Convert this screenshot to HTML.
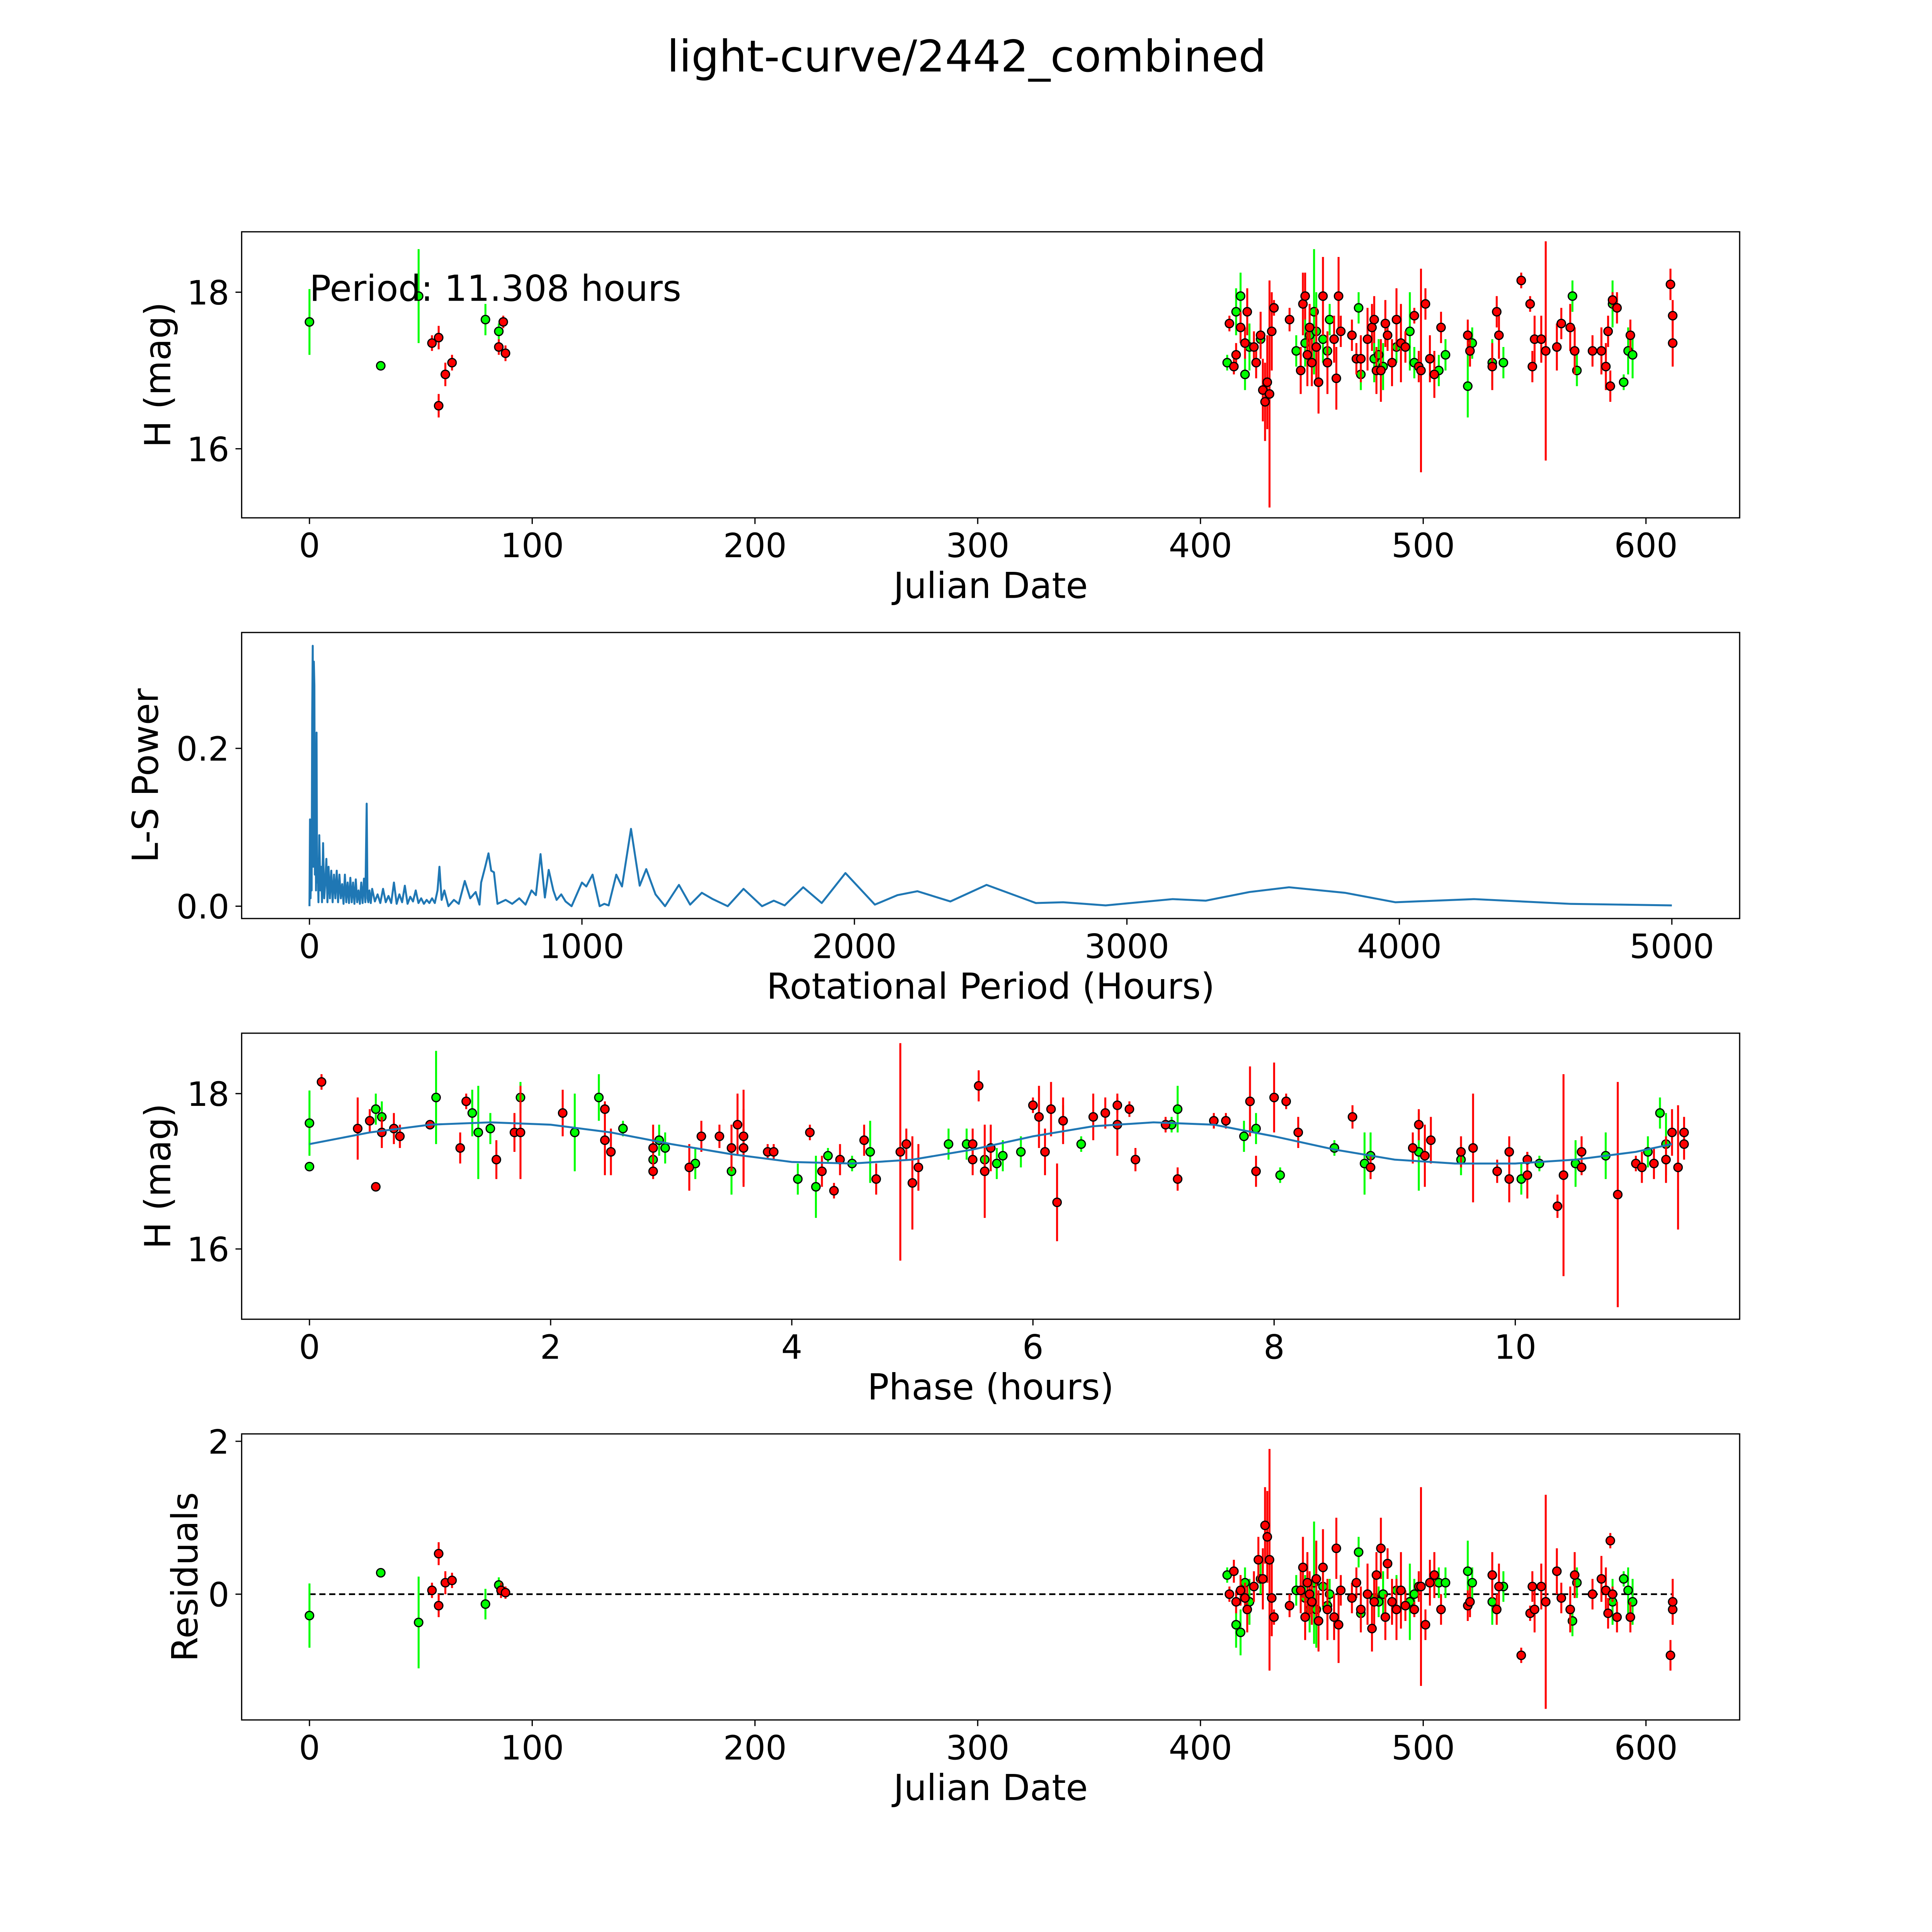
<!DOCTYPE html>
<html><head><meta charset="utf-8"><style>
html,body{margin:0;padding:0;background:#fff;overflow:hidden;width:100%;height:100%;}
svg{display:block;width:100vw;height:100vh;font-family:"DejaVu Sans","Liberation Sans",sans-serif;}
</style></head><body>
<svg id="fig" width="5400" height="5400" viewBox="0 0 1567 1567" preserveAspectRatio="xMidYMid meet" xmlns="http://www.w3.org/2000/svg">
<rect width="1567" height="1567" fill="#fff"/>
<text x="784" y="58" font-size="35.5" text-anchor="middle">light-curve/2442_combined</text>
<g id="layer"></g>
</svg>
<script>
// ---------- data ----------
const lcRed = [[55,17.35,.1],[58,17.42,.15],[58,16.55,.15],[61,16.95,.15],[64,17.1,.1],[85,17.3,.1],[87,17.62,.08],[88,17.22,.1],
[413,17.6,.1],[415,17.05,.1],[416,17.2,.15],[418,17.55,.2],[420,17.35,.2],[421,17.75,.3],[424,17.3,.2],[425,17.1,.2],[427,17.45,.3],[428,16.75,.4],[429,16.6,.5],[430,16.85,.6],[431,16.7,1.45],[432,17.5,.5],[433,17.8,.1],[440,17.65,.15],[445,17.0,.3],[446,17.85,.4],[447,17.95,.3],[448,17.2,.4],[449,17.55,.3],[450,17.1,.3],[452,17.3,.5],[453,16.85,.4],[455,17.95,.5],[457,17.1,.4],[460,17.4,.3],[461,16.9,.4],[462,17.95,.5],[463,17.5,.2],[468,17.45,.2],[470,17.15,.2],[472,17.15,.3],[475,17.4,.4],[477,17.55,.3],[478,17.65,.3],[479,17.0,.3],[481,17.0,.4],[483,17.6,.3],[484,17.45,.2],[486,17.1,.3],[488,17.65,.4],[490,17.35,.5],[492,17.3,.2],[496,17.7,.1],[498,17.05,.2],[499,17.0,1.3],[501,17.85,.2],[503,17.15,.3],[505,16.95,.3],[508,17.55,.2],[520,17.45,.2],[521,17.25,.2],[531,17.05,.3],[533,17.75,.2],[534,17.45,.3],[544,18.15,.1],[548,17.85,.1],[549,17.05,.2],[550,17.4,.3],[553,17.4,.3],[555,17.25,1.4],[560,17.3,.3],[562,17.6,.2],[566,17.55,.3],[568,17.25,.3],[576,17.25,.2],[580,17.25,.3],[582,17.05,.3],[583,17.5,.2],[584,16.8,.2],[585,17.9,.1],[587,17.8,.2],[593,17.45,.2],[611,18.1,.2],[612,17.7,.2],[612,17.35,.3]];
const lcGreen = [[0,17.62,.42],[32,17.06,.05],[49,17.95,.6],[79,17.65,.2],[85,17.5,.1],
[412,17.1,.1],[416,17.75,.3],[418,17.95,.3],[420,16.95,.2],[422,17.3,.3],[427,17.4,.2],[443,17.25,.2],[447,17.35,.3],[449,17.45,.3],[451,17.75,.8],[452,17.5,.5],[455,17.4,.3],[457,17.25,.2],[458,17.65,.2],[471,17.8,.2],[472,16.95,.2],[478,17.15,.3],[480,17.2,.2],[482,17.05,.3],[488,17.3,.2],[494,17.5,.5],[496,17.1,.2],[507,17.0,.2],[510,17.2,.2],[520,16.8,.4],[522,17.35,.2],[531,17.1,.3],[536,17.1,.2],[567,17.95,.2],[569,17.0,.2],[585,17.85,.3],[590,16.85,.1],[592,17.25,.3],[594,17.2,.3]];
const lsPeriod = [0,2,4,6,8,10,12,14,16,18,20,22,24,26,28,30,33,36,40,43,46,50,54,58,62,66,70,75,80,85,90,95,100,105,110,115,120,125,130,135,140,145,150,155,160,165,170,175,180,185,190,195,200,205,210,213,216,220,225,230,240,250,260,270,280,290,300,310,320,330,340,350,360,370,380,390,400,410,420,430,440,450,460,470,477,485,495,510,530,548,570,590,610,624,630,645,657,667,677,690,720,744,770,793,815,831,848,864,878,895,907,924,940,962,1000,1016,1039,1065,1082,1098,1126,1147,1180,1212,1236,1270,1305,1356,1397,1440,1480,1535,1593,1661,1704,1744,1812,1880,1967,2075,2158,2231,2352,2485,2666,2766,2922,3168,3289,3450,3595,3800,3985,4274,4625,5000];
const lsPower = [0,0.11,0.01,0.06,0.02,0.24,0.33,0.05,0.31,0.28,0.04,0.15,0.02,0.22,0.03,0.06,0.005,0.09,0.02,0.05,0.005,0.08,0.01,0.03,0.06,0.005,0.05,0.01,0.045,0.005,0.04,0.01,0.045,0.005,0.04,0.01,0.028,0.003,0.04,0.005,0.03,0.004,0.036,0.005,0.03,0.003,0.034,0.005,0.02,0.003,0.03,0.004,0.035,0.005,0.13,0.01,0.005,0.02,0.004,0.022,0.006,0.015,0.004,0.022,0.005,0.013,0.004,0.03,0.003,0.015,0.005,0.026,0.003,0.012,0.006,0.02,0.004,0.01,0.003,0.008,0.004,0.01,0.004,0.02,0.05,0.008,0.02,0.0,0.008,0.003,0.032,0.01,0.018,0.002,0.03,0.05,0.067,0.045,0.043,0.003,0.008,0.003,0.01,0.002,0.02,0.014,0.066,0.011,0.046,0.02,0.008,0.015,0.006,0.0,0.03,0.025,0.04,0.0,0.003,0.001,0.04,0.025,0.098,0.026,0.047,0.015,0.0,0.027,0.002,0.017,0.009,0.0,0.022,0.0,0.007,0.001,0.024,0.004,0.042,0.002,0.014,0.019,0.006,0.027,0.004,0.005,0.001,0.009,0.007,0.018,0.024,0.017,0.005,0.009,0.003,0.001];
const phGreen = [[0,17.62,.42],[0,17.06,.05],[0.55,17.8,.2],[0.6,17.7,.2],[1.05,17.95,.6],[1.35,17.75,.3],[1.4,17.5,.6],[1.5,17.55,.2],[1.75,17.95,.2],[2.2,17.5,.5],[2.4,17.95,.3],[2.6,17.55,.1],[2.85,17.15,.2],[2.9,17.4,.2],[2.95,17.3,.2],[3.2,17.1,.2],[3.5,17.0,.3],[4.05,16.9,.2],[4.2,16.8,.4],[4.3,17.2,.1],[4.5,17.1,.1],[4.65,17.25,.4],[5.3,17.35,.2],[5.45,17.35,.2],[5.6,17.15,.1],[5.7,17.1,.2],[5.75,17.2,.2],[5.9,17.25,.2],[6.25,17.65,.2],[6.4,17.35,.1],[7.15,17.6,.1],[7.2,17.8,.3],[7.75,17.45,.2],[7.85,17.55,.2],[8.05,16.95,.1],[8.5,17.3,.1],[8.75,17.1,.4],[8.8,17.2,.3],[9.2,17.25,.5],[9.55,17.15,.2],[10.05,16.9,.2],[10.2,17.1,.1],[10.5,17.1,.3],[10.75,17.2,.3],[11.1,17.25,.2],[11.2,17.75,.2],[11.25,17.35,.4]];
const phRed = [[0.1,18.15,.1],[0.4,17.55,.4],[0.5,17.65,.15],[0.55,16.8,.05],[0.6,17.5,.2],[0.7,17.55,.2],[0.75,17.45,.15],[1.0,17.6,.05],[1.25,17.3,.2],[1.3,17.9,.1],[1.55,17.15,.25],[1.7,17.5,.25],[1.75,17.5,.6],[2.1,17.75,.3],[2.45,17.4,.45],[2.45,17.8,.1],[2.5,17.25,.3],[2.85,17.3,.3],[2.85,17.0,.1],[3.15,17.05,.3],[3.25,17.45,.2],[3.4,17.45,.15],[3.5,17.3,.3],[3.55,17.6,.4],[3.6,17.45,.6],[3.6,17.3,.5],[3.8,17.25,.1],[3.85,17.25,.1],[4.15,17.5,.1],[4.25,17.0,.2],[4.35,16.75,.1],[4.4,17.15,.2],[4.6,17.4,.2],[4.7,16.9,.2],[4.9,17.25,1.4],[4.95,17.35,.2],[5.0,16.85,.6],[5.05,17.05,.3],[5.5,17.35,.2],[5.5,17.15,.2],[5.55,18.1,.2],[5.6,17.0,.6],[5.65,17.3,.3],[6.0,17.85,.1],[6.05,17.7,.4],[6.1,17.25,.3],[6.15,17.8,.35],[6.2,16.6,.5],[6.25,17.65,.3],[6.5,17.7,.3],[6.6,17.75,.2],[6.7,17.6,.4],[6.7,17.85,.1],[6.8,17.8,.1],[6.85,17.15,.15],[7.1,17.6,.1],[7.2,16.9,.15],[7.5,17.65,.1],[7.6,17.65,.1],[7.8,17.9,.45],[7.85,17.0,.2],[8.0,17.95,.45],[8.1,17.9,.1],[8.2,17.5,.2],[8.65,17.7,.15],[8.8,17.05,.15],[9.15,17.3,.2],[9.2,17.6,.2],[9.25,17.2,.4],[9.3,17.4,.3],[9.55,17.25,.2],[9.65,17.3,.7],[9.85,17.0,.15],[9.95,17.25,.2],[9.95,16.9,.3],[10.1,16.95,.3],[10.1,17.15,.1],[10.35,16.55,.15],[10.4,16.95,1.3],[10.55,17.25,.2],[10.55,17.05,.1],[10.85,16.7,1.45],[11.0,17.1,.1],[11.05,17.05,.2],[11.15,17.1,.2],[11.25,17.15,.3],[11.3,17.5,.3],[11.35,17.05,.8],[11.4,17.35,.2],[11.4,17.5,.2]];
const fitPhase = [0,0.5,1,1.5,2,2.5,3,3.5,4,4.5,5,5.5,6,6.5,7,7.5,8,8.5,9,9.5,10,10.5,11,11.3];
const fitMag = [17.35,17.5,17.6,17.63,17.6,17.5,17.35,17.22,17.12,17.1,17.15,17.28,17.45,17.58,17.63,17.6,17.45,17.28,17.15,17.1,17.1,17.15,17.25,17.35];
const resRed = [[55,0.05,.1],[58,0.53,.15],[58,-0.15,.15],[61,0.15,.15],[64,0.18,.1],[86,0.05,.1],[88,0.02,.08],
[413,0.0,.1],[415,0.3,.15],[416,-0.1,.15],[418,0.05,.2],[420,-0.05,.2],[421,-0.2,.3],[424,0.1,.2],[426,0.45,.3],[428,0.2,.4],[429,0.9,.5],[430,0.75,.6],[431,0.45,1.45],[432,-0.05,.5],[433,-0.3,.1],[440,-0.15,.15],[445,0.05,.3],[446,0.35,.4],[447,-0.3,.3],[448,0.15,.4],[449,0.0,.3],[450,-0.1,.3],[452,0.2,.5],[453,-0.35,.4],[455,0.35,.5],[457,-0.2,.4],[460,-0.3,.3],[461,0.6,.4],[462,-0.4,.5],[463,0.05,.2],[468,-0.05,.2],[470,0.15,.2],[472,-0.2,.3],[475,0.0,.4],[477,-0.45,.3],[478,-0.1,.3],[479,0.25,.3],[481,0.6,.4],[483,-0.3,.3],[484,0.4,.2],[486,-0.1,.3],[488,-0.2,.4],[490,0.05,.5],[492,-0.15,.2],[496,-0.2,.1],[498,0.1,.2],[499,0.1,1.3],[501,-0.4,.2],[503,0.15,.3],[505,0.25,.3],[508,-0.2,.2],[520,-0.15,.2],[521,-0.1,.2],[531,0.25,.3],[533,-0.2,.2],[534,0.1,.3],[544,-0.8,.1],[548,-0.25,.1],[549,0.1,.2],[550,-0.2,.3],[553,0.1,.3],[555,-0.1,1.4],[560,0.3,.3],[562,-0.05,.2],[566,-0.2,.3],[568,0.25,.3],[576,0.0,.2],[580,0.2,.3],[582,0.05,.3],[583,-0.25,.2],[584,0.7,.1],[585,0.0,.1],[587,-0.3,.2],[593,-0.3,.2],[611,-0.8,.2],[612,-0.2,.2],[612,-0.1,.3]];
const resGreen = [[0,-0.28,.42],[32,0.28,.05],[49,-0.37,.6],[79,-0.13,.2],[85,0.12,.1],
[412,0.25,.1],[416,-0.4,.3],[418,-0.5,.3],[420,0.15,.2],[422,-0.1,.3],[427,0.2,.2],[443,0.05,.2],[447,-0.05,.3],[449,-0.2,.3],[451,0.15,.8],[452,-0.2,.5],[455,0.1,.3],[457,-0.15,.2],[458,0.0,.2],[471,0.55,.2],[472,-0.25,.2],[478,-0.05,.3],[480,-0.1,.2],[482,0.0,.3],[488,0.05,.2],[494,-0.1,.5],[496,0.0,.2],[507,0.15,.2],[510,0.15,.2],[520,0.3,.4],[522,0.15,.2],[531,-0.1,.3],[536,0.1,.2],[567,-0.35,.2],[569,0.15,.2],[585,-0.1,.3],[590,0.2,.1],[592,0.05,.3],[594,-0.1,.3]];
const jdTicks = [0,100,200,300,400,500,600];
const magTicks = [16,18];
const lsXTicks = [0,1000,2000,3000,4000,5000];
const lsYTicks = [0.0,0.2];
const phTicks = [0,2,4,6,8,10];
const resTicks = [0,2];

// ---------- drawing ----------
const NS = "http://www.w3.org/2000/svg";
const layer = document.getElementById('layer');
function mk(tag, attrs, parent){ const e=document.createElementNS(NS,tag); for(const k in attrs) e.setAttribute(k,attrs[k]); (parent||layer).appendChild(e); return e; }
function lin(d0,d1,p0,p1){ return v => p0 + (v-d0)*(p1-p0)/(d1-d0); }

function axes(name, top, xs, ys, xt, yt, xfmt, yfmt, xlabel, ylabel, ylx){
  const g = mk('g',{});
  
  
  const box = mk('rect',{x:196,y:top,width:1215,height:232,fill:'none',stroke:'#000','stroke-width':1},g);
  
  
  const bot = top+232;
  xt.forEach(v=>{ const x=xs(v);
    mk('line',{x1:x,x2:x,y1:bot,y2:bot+5,stroke:'#000'},g);
    const t=mk('text',{x:x,y:bot+32,'font-size':27,'text-anchor':'middle'},g); t.textContent=xfmt(v);
    
    
  });
  yt.forEach(v=>{ const y=ys(v);
    mk('line',{x1:196,x2:191,y1:y,y2:y,stroke:'#000'},g);
    const t=mk('text',{x:186,y:y+10,'font-size':27,'text-anchor':'end'},g); t.textContent=yfmt(v);
    
    
  });
  const xl=mk('text',{x:803.5,y:bot+65,'font-size':29,'text-anchor':'middle'},g); xl.textContent=xlabel;
  
  
  const cy=top+116;
  const yl=mk('text',{x:ylx,y:cy,'font-size':29,'text-anchor':'middle',transform:`rotate(-90 ${ylx} ${cy})`},g); yl.textContent=ylabel;
  
  
  return g;
}
function errPoints(g, pts, xs, ys, color, name){
  pts.forEach(p=>{
    const x=xs(p[0]);
    const l=mk('line',{x1:x,x2:x,y1:ys(p[1]-p[2]),y2:ys(p[1]+p[2]),stroke:color,'stroke-width':1.6},g);
    
    
  });
  pts.forEach(p=>{
    const c=mk('circle',{cx:xs(p[0]),cy:ys(p[1]),r:3.4,fill:color,stroke:'#000','stroke-width':1},g);
    
    
  });
}
const f0 = v=>String(v), f1 = v=>v.toFixed(1);

// Panel 1
{
  const xs=lin(0,600,251,1335), ys=lin(16,18,364,237);
  const g=axes('light-curve-panel',188,xs,ys,jdTicks,magTicks,f0,f0,'Julian Date','H (mag)',138);
  errPoints(g,lcGreen,xs,ys,'#00ff00','green-band');
  errPoints(g,lcRed,xs,ys,'#ff0000','red-band');
  const t=mk('text',{x:251,y:244,'font-size':29},g); t.textContent='Period: 11.308 hours';
  
  
}
// Panel 2
{
  const xs=lin(0,5000,251,1356), ys=lin(0,0.2,735,607);
  const g=axes('periodogram-panel',513,xs,ys,lsXTicks,lsYTicks,f0,f1,'Rotational Period (Hours)','L-S Power',128);
  const pl=mk('polyline',{points:lsPeriod.map((p,i)=>xs(p)+','+ys(lsPower[i])).join(' '),fill:'none',stroke:'#1f77b4','stroke-width':1.6,'stroke-linejoin':'round'},g);
  
  
}
// Panel 3
{
  const xs=lin(0,10,251,1229), ys=lin(16,18,1013,887);
  const g=axes('phase-panel',838,xs,ys,phTicks,magTicks,f0,f0,'Phase (hours)','H (mag)',138);
  errPoints(g,phGreen,xs,ys,'#00ff00','green-band');
  errPoints(g,phRed,xs,ys,'#ff0000','red-band');
  const pl=mk('polyline',{points:fitPhase.map((p,i)=>xs(p)+','+ys(fitMag[i])).join(' '),fill:'none',stroke:'#1f77b4','stroke-width':1.6},g);
  
  
}
// Panel 4
{
  const xs=lin(0,600,251,1335), ys=lin(0,2,1293,1169);
  const g=axes('residuals-panel',1163,xs,ys,jdTicks,resTicks,f0,f0,'Julian Date','Residuals',160);
  const z=mk('line',{x1:xs(0),x2:xs(612),y1:ys(0),y2:ys(0),stroke:'#000','stroke-width':1.4,'stroke-dasharray':'5,3'},g);
  
  
  errPoints(g,resGreen,xs,ys,'#00ff00','green-band');
  errPoints(g,resRed,xs,ys,'#ff0000','red-band');
}
</script>
</body></html>
